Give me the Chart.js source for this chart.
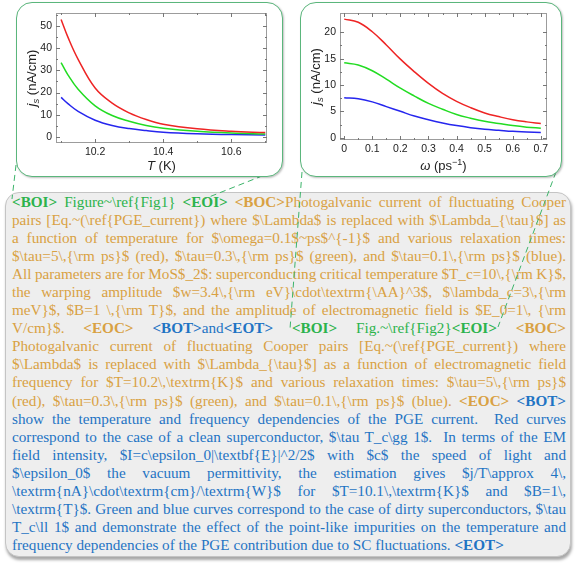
<!DOCTYPE html>
<html>
<head>
<meta charset="utf-8">
<script src="https://cdn.jsdelivr.net/npm/chart.js@4"></script>
<style>
body { margin:0; width:576px; height:569px; background:#fff; position:relative; overflow:hidden; }
.fig { position:absolute; box-sizing:border-box; border:1.5px solid #5bb67c; border-radius:16px; background:#fff; box-shadow:1px 1px 2px rgba(0,0,0,.25); }
canvas { position:absolute; }
#txt { position:absolute; left:5px; top:192px; width:566px; height:365px; box-sizing:border-box;
  background:#eeeeee; border:1px solid #c4c4c4; border-radius:14px; box-shadow:1px 3px 3px rgba(0,0,0,.35);
  padding:0 4px 0 6px; font-family:"Liberation Serif", serif; font-size:15.2px; line-height:18.05px; }
.l { text-align:justify; text-align-last:justify; }
.g { color:#2cb34c; } .o { color:#d9a143; } .b { color:#1f74c4; }
svg { position:absolute; left:0; top:0; }
</style>
</head>
<body>
<div id="txt">
<div class="l"><span class="g"><b>&lt;BOI&gt;</b> Figure~\ref{Fig1} <b>&lt;EOI&gt;</b></span> <span class="o"><b>&lt;BOC&gt;</b>Photogalvanic current of fluctuating Cooper</span></div>
<div class="l o">pairs [Eq.~(\ref{PGE_current}) where $\Lambda$ is replaced with $\Lambda_{\tau}$] as</div>
<div class="l o">a function of temperature for $\omega=0.1$~ps$^{-1}$ and various relaxation times:</div>
<div class="l o">$\tau=5\,{\rm ps}$ (red), $\tau=0.3\,{\rm ps}$ (green), and $\tau=0.1\,{\rm ps}$ (blue).</div>
<div class="l o">All parameters are for MoS$_2$: superconducting critical temperature $T_c=10\,{\rm K}$,</div>
<div class="l o">the warping amplitude $w=3.4\,{\rm eV}\cdot\textrm{\AA}^3$, $\lambda_c=3\,{\rm</div>
<div class="l o">meV}$, $B=1 \,{\rm T}$, and the amplitude of electromagnetic field is $E_0=1\, {\rm</div>
<div class="l"><span class="o">V/cm}$. <b>&lt;EOC&gt;</b></span> <span class="b"><b>&lt;BOT&gt;</b>and<b>&lt;EOT&gt;</b></span> <span class="g"><b>&lt;BOI&gt;</b> Fig.~\ref{Fig2}<b>&lt;EOI&gt;</b></span> <span class="o"><b>&lt;BOC&gt;</b></span></div>
<div class="l o">Photogalvanic current of fluctuating Cooper pairs [Eq.~(\ref{PGE_current}) where</div>
<div class="l o">$\Lambda$ is replaced with $\Lambda_{\tau}$] as a function of electromagnetic field</div>
<div class="l o">frequency for $T=10.2\,\textrm{K}$ and various relaxation times: $\tau=5\,{\rm ps}$</div>
<div class="l"><span class="o">(red), $\tau=0.3\,{\rm ps}$ (green), and $\tau=0.1\,{\rm ps}$ (blue). <b>&lt;EOC&gt;</b></span> <span class="b"><b>&lt;BOT&gt;</b></span></div>
<div class="l b">show the temperature and frequency dependencies of the PGE current.&nbsp; Red curves</div>
<div class="l b">correspond to the case of a clean superconductor, $\tau T_c\gg 1$.&nbsp; In terms of the EM</div>
<div class="l b">field intensity, $I=c\epsilon_0|\textbf{E}|^2/2$ with $c$ the speed of light and</div>
<div class="l b">$\epsilon_0$ the vacuum permittivity, the estimation gives $j/T\approx 4\,</div>
<div class="l b">\textrm{nA}\cdot\textrm{cm}/\textrm{W}$ for $T=10.1\,\textrm{K}$ and $B=1\,</div>
<div class="l b">\textrm{T}$. Green and blue curves correspond to the case of dirty superconductors, $\tau</div>
<div class="l b">T_c\ll 1$ and demonstrate the effect of the point-like impurities on the temperature and</div>
<div class="b">frequency dependencies of the PGE contribution due to SC fluctuations. <b>&lt;EOT&gt;</b></div>
</div>

<svg width="576" height="569">
  <g stroke="#3cb46a" stroke-width="1" stroke-dasharray="6,4" fill="none">
    <line x1="16" y1="165" x2="12" y2="199"/>
    <line x1="272" y1="172" x2="204" y2="199"/>
    <line x1="302" y1="172" x2="290" y2="329"/>
    <line x1="556" y1="172" x2="498" y2="327"/>
  </g>
</svg>

<div class="fig" style="left:16px;top:2px;width:267px;height:175px"></div>
<div class="fig" style="left:300px;top:2px;width:262px;height:175px"></div>
<canvas id="c1" width="267" height="175" style="left:16px;top:2px"></canvas>
<canvas id="c2" width="262" height="175" style="left:300px;top:2px"></canvas>

<script>
// left panel: j_s vs temperature
var tempK    = [10.1, 10.12, 10.15, 10.2, 10.25, 10.3, 10.35, 10.4, 10.5, 10.6, 10.7];
var tempRed  = [53.0, 45.0, 35.0, 22.0, 15.2, 10.8, 7.8, 5.7, 3.6, 2.5, 1.9];
var tempGrn  = [33.5, 28.0, 21.5, 14.0, 9.6, 7.0, 5.1, 3.9, 2.5, 1.7, 1.3];
var tempBlu  = [17.8, 15.0, 11.5, 7.5, 5.1, 3.7, 2.8, 2.1, 1.4, 1.0, 0.8];
var tempXTicks = [10.2, 10.4, 10.6];
var tempXMinor = [10.1, 10.3, 10.5, 10.7];
var tempYTicks = [0, 10, 20, 30, 40, 50];
var tempYMinor = [5, 15, 25, 35, 45, 55];

// right panel: j_s vs frequency
var omega    = [0, 0.05, 0.1, 0.15, 0.2, 0.25, 0.3, 0.35, 0.4, 0.45, 0.5, 0.55, 0.6, 0.65, 0.7];
var omegaRed = [22.5, 21.9, 20.1, 17.6, 14.9, 12.5, 10.3, 8.4, 6.9, 5.7, 4.7, 4.0, 3.4, 3.0, 2.7];
var omegaGrn = [14.2, 13.8, 12.7, 11.1, 9.4, 7.9, 6.5, 5.4, 4.4, 3.7, 3.1, 2.7, 2.3, 2.0, 1.8];
var omegaBlu = [7.6, 7.4, 6.8, 5.9, 5.0, 4.1, 3.4, 2.8, 2.3, 1.9, 1.6, 1.4, 1.2, 1.1, 1.0];
var omegaXTicks = [0, 0.1, 0.2, 0.3, 0.4, 0.5, 0.6, 0.7];
var omegaXLabels = ['0', '0.1', '0.2', '0.3', '0.4', '0.5', '0.6', '0.7'];
var omegaXMinor = [0.05, 0.15, 0.25, 0.35, 0.45, 0.55, 0.65];
var omegaYTicks = [0, 5, 10, 15, 20];
var omegaYMinor = [2.5, 7.5, 12.5, 17.5];

var SANS = '"Liberation Sans", Arial, sans-serif';

// squeeze word spacing on any caption line that would otherwise wrap
function fitLines() {
    var avail = 554;
    document.querySelectorAll('#txt > div').forEach(function (d) {
        d.style.whiteSpace = 'nowrap';
        d.style.display = 'inline-block';
        var w = d.getBoundingClientRect().width;
        d.style.whiteSpace = '';
        d.style.display = '';
        if (w > avail - 1) {
            var n = (d.textContent.match(/ /g) || []).length || 1;
            d.style.wordSpacing = ((avail - 1 - w) / n) + 'px';
        }
    });
}
fitLines();

function pts(xs, ys) {
    return xs.map(function (x, i) { return {x: x, y: ys[i]}; });
}

// draw a run of text pieces with different fonts, centred on x
function drawRich(ctx, parts, x, y) {
    var w = 0;
    parts.forEach(function (p) { ctx.font = p.font; p.w = ctx.measureText(p.t).width; w += p.w; });
    var cx = x - w / 2;
    parts.forEach(function (p) {
        ctx.font = p.font;
        ctx.fillText(p.t, cx, y + (p.dy || 0));
        cx += p.w;
    });
}

var framePlugin = {
    id: 'frame',
    afterDraw: function (chart, args, o) {
        var ctx = chart.ctx, a = chart.chartArea;
        var sx = chart.scales.x, sy = chart.scales.y;
        ctx.save();
        ctx.strokeStyle = '#9c9c9c';
        ctx.lineWidth = 1;
        ctx.strokeRect(Math.round(a.left) + 0.5, Math.round(a.top) + 0.5,
                       Math.round(a.width) - 1, Math.round(a.height) - 1);
        ctx.strokeStyle = '#777';
        function xt(vals, len) {
            vals.forEach(function (v) {
                var px = Math.round(sx.getPixelForValue(v)) + 0.5;
                ctx.beginPath();
                ctx.moveTo(px, a.bottom); ctx.lineTo(px, a.bottom - len);
                ctx.moveTo(px, a.top); ctx.lineTo(px, a.top + len);
                ctx.stroke();
            });
        }
        function yt(vals, len) {
            vals.forEach(function (v) {
                var py = Math.round(sy.getPixelForValue(v)) + 0.5;
                if (py < a.top || py > a.bottom) return;
                ctx.beginPath();
                ctx.moveTo(a.left, py); ctx.lineTo(a.left + len, py);
                ctx.moveTo(a.right, py); ctx.lineTo(a.right - len, py);
                ctx.stroke();
            });
        }
        xt(o.xMajor, 4); xt(o.xMinor, 2);
        yt(o.yMajor, 4); yt(o.yMinor, 2);

        ctx.fillStyle = '#222';
        ctx.textBaseline = 'alphabetic';
        ctx.textAlign = 'left';
        // x title
        drawRich(ctx, o.xTitle, (a.left + a.right) / 2, o.xTitleY);
        // y title, rotated
        ctx.translate(o.yTitleX, (a.top + a.bottom) / 2);
        ctx.rotate(-Math.PI / 2);
        drawRich(ctx, [
            {t: 'j', font: 'italic 13px ' + SANS},
            {t: 's', font: 'italic 9.5px ' + SANS, dy: 3},
            {t: ' (nA/cm)', font: '13px ' + SANS}
        ], 0, 0);
        ctx.restore();
    }
};

function makeChart(id, xs, reds, grns, blus, xr, yr, xTicks, xLabels, yTicks, pad, frame) {
    return new Chart(document.getElementById(id), {
        type: 'line',
        data: {
            datasets: [
                {data: pts(xs, reds), borderColor: '#ee2424'},
                {data: pts(xs, grns), borderColor: '#22dc22'},
                {data: pts(xs, blus), borderColor: '#2626ee'}
            ]
        },
        options: {
            responsive: false,
            animation: false,
            devicePixelRatio: 1,
            layout: {padding: pad},
            elements: {
                line: {borderWidth: 1.5, tension: 0.4, fill: false},
                point: {radius: 0}
            },
            plugins: {legend: {display: false}, tooltip: {enabled: false}, frame: frame},
            scales: {
                x: {
                    type: 'linear', min: xr[0], max: xr[1],
                    grid: {display: false, drawTicks: false}, border: {display: false},
                    afterBuildTicks: function (s) { s.ticks = xTicks.map(function (v) { return {value: v}; }); },
                    afterFit: function (s) { s.height = 20; },
                    ticks: {
                        padding: 3, maxRotation: 0, autoSkip: false, color: '#222',
                        font: {family: SANS, size: 10.5},
                        callback: function (v) { var i = xTicks.indexOf(v); return xLabels[i]; }
                    }
                },
                y: {
                    type: 'linear', min: yr[0], max: yr[1],
                    grid: {display: false, drawTicks: false}, border: {display: false},
                    afterBuildTicks: function (s) { s.ticks = yTicks.map(function (v) { return {value: v}; }); },
                    afterFit: function (s) { s.width = 40; },
                    ticks: {
                        padding: 4, autoSkip: false, color: '#222',
                        font: {family: SANS, size: 10.5},
                        callback: function (v) { return String(v); }
                    }
                }
            }
        },
        plugins: [framePlugin]
    });
}

makeChart('c1', tempK, tempRed, tempGrn, tempBlu,
    [10.085, 10.705], [-2.8, 55.9],
    tempXTicks, tempXTicks.map(String), tempYTicks,
    {top: 11, right: 16, bottom: 14, left: 0},
    {
        xMajor: tempXTicks, xMinor: tempXMinor, yMajor: tempYTicks, yMinor: tempYMinor,
        xTitle: [{t: 'T', font: 'italic 13px ' + SANS}, {t: ' (K)', font: '13px ' + SANS}],
        xTitleY: 168, yTitleX: 20
    });

makeChart('c2', omega, omegaRed, omegaGrn, omegaBlu,
    [-0.015, 0.722], [-0.44, 23.66],
    omegaXTicks, omegaXLabels, omegaYTicks,
    {top: 11, right: 15, bottom: 17, left: 0},
    {
        xMajor: omegaXTicks, xMinor: omegaXMinor, yMajor: omegaYTicks, yMinor: omegaYMinor,
        xTitle: [{t: 'ω', font: 'italic 13px ' + SANS}, {t: ' (ps', font: '13px ' + SANS},
                 {t: '−1', font: '9px ' + SANS, dy: -5}, {t: ')', font: '13px ' + SANS}],
        xTitleY: 168, yTitleX: 20
    });
</script>
</body>
</html>
